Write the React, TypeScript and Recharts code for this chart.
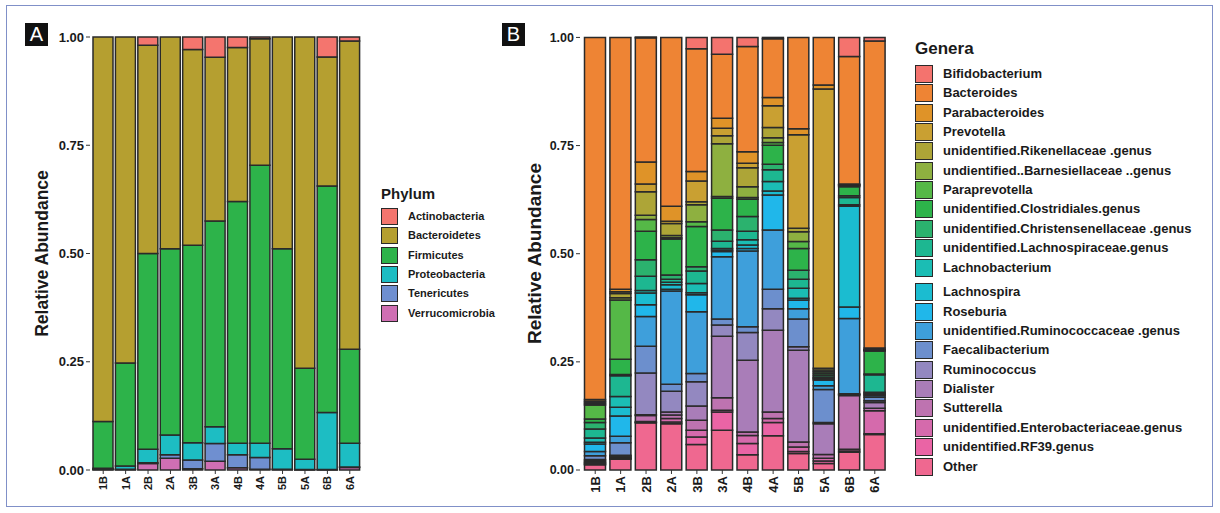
import React from 'react';
import { BarChart, Bar, XAxis, YAxis, Label } from 'recharts';

const samples = ['1B', '1A', '2B', '2A', '3B', '3A', '4B', '4A', '5B', '5A', '6B', '6A'];

// Panel A - phylum
const actinobacteria = [0, 0, 0.019, 0, 0.029, 0.047, 0.024, 0.004, 0, 0, 0.046, 0.009];
const bacteroidetes = [0.888, 0.753, 0.481, 0.489, 0.452, 0.378, 0.356, 0.292, 0.489, 0.765, 0.298, 0.712];
const firmicutes = [0.108, 0.238, 0.452, 0.43, 0.456, 0.475, 0.558, 0.642, 0.462, 0.21, 0.523, 0.217];
const proteobacteria = [0.002, 0.007, 0.031, 0.046, 0.04, 0.039, 0.027, 0.033, 0.047, 0.024, 0.132, 0.055];
const tenericutes = [0.001, 0.001, 0.002, 0.008, 0.02, 0.041, 0.03, 0.027, 0.001, 0.0005, 0.0005, 0.001];
const verrucomicrobia = [0.001, 0.001, 0.015, 0.027, 0.003, 0.02, 0.005, 0.002, 0.001, 0.0005, 0.0005, 0.006];

// Panel B - genera
const bifidobacterium = [0, 0, 0.002, 0, 0.026, 0.039, 0.021, 0.003, 0, 0, 0.044, 0.008];
const bacteroides = [0.837, 0.582, 0.287, 0.39, 0.284, 0.148, 0.243, 0.136, 0.211, 0.11, 0.295, 0.71];
const parabacteroides = [0.004, 0.006, 0.051, 0.035, 0.022, 0.023, 0.027, 0.019, 0.014, 0.009, 0.001, 0.003];
const prevotella = [0.003, 0.004, 0.018, 0.005, 0.048, 0.017, 0.01, 0.05, 0.216, 0.646, 0.001, 0.001];
const rikenellaceae = [0.003, 0.01, 0.054, 0.028, 0.007, 0.019, 0.044, 0.024, 0.008, 0.004, 0.001, 0.001];
const barnesiellaceae = [0.003, 0.005, 0.01, 0.005, 0.039, 0.122, 0.025, 0.011, 0.023, 0.004, 0.001, 0.001];
const paraprevotella = [0.032, 0.137, 0.027, 0.003, 0.011, 0.004, 0.004, 0.006, 0.016, 0.004, 0.002, 0.001];
const clostridiales = [0.008, 0.035, 0.066, 0.083, 0.093, 0.073, 0.04, 0.044, 0.05, 0.004, 0.021, 0.053];
const christensenellaceae = [0.015, 0.003, 0.038, 0.01, 0.01, 0.026, 0.034, 0.013, 0.021, 0.004, 0.004, 0.002];
const lachnospiraceae = [0.021, 0.048, 0.033, 0.007, 0.029, 0.017, 0.02, 0.027, 0.021, 0.002, 0.017, 0.04];
const lachnobacterium = [0.01, 0.025, 0.006, 0.006, 0.021, 0.004, 0.012, 0.022, 0.023, 0.002, 0.003, 0.003];
const lachnospira = [0.004, 0.02, 0.027, 0.01, 0.005, 0.003, 0.008, 0.009, 0.004, 0.003, 0.233, 0.002];
const roseburia = [0.017, 0.047, 0.027, 0.004, 0.039, 0.012, 0.006, 0.081, 0.02, 0.013, 0.027, 0.003];
const ruminococcaceae = [0.01, 0.015, 0.069, 0.216, 0.143, 0.144, 0.175, 0.137, 0.024, 0.009, 0.174, 0.004];
const faecalibacterium = [0.009, 0.029, 0.062, 0.016, 0.019, 0.014, 0.013, 0.045, 0.064, 0.076, 0.001, 0.008];
const ruminococcus = [0.003, 0.002, 0.096, 0.048, 0.056, 0.026, 0.064, 0.05, 0.008, 0.003, 0.001, 0.004];
const dialister = [0.003, 0.002, 0.002, 0.007, 0.033, 0.142, 0.166, 0.189, 0.212, 0.071, 0.002, 0.013];
const sutterella = [0.002, 0.002, 0.014, 0.008, 0.023, 0.029, 0.008, 0.015, 0.012, 0.009, 0.124, 0.006];
const enterobacteriaceae = [0.002, 0.002, 0.002, 0.008, 0.016, 0.004, 0.019, 0.009, 0.01, 0.006, 0.004, 0.053];
const rf39 = [0.002, 0.001, 0.001, 0.004, 0.017, 0.042, 0.026, 0.031, 0.005, 0.006, 0.003, 0.002];
const other = [0.012, 0.025, 0.109, 0.107, 0.059, 0.092, 0.035, 0.079, 0.038, 0.015, 0.041, 0.082];

const yTicks = [0, 0.25, 0.5, 0.75, 1];

const phyla = [
  { name: 'Actinobacteria', color: '#F4756E', values: actinobacteria },
  { name: 'Bacteroidetes', color: '#B59F30', values: bacteroidetes },
  { name: 'Firmicutes', color: '#2DB34A', values: firmicutes },
  { name: 'Proteobacteria', color: '#1DBDC3', values: proteobacteria },
  { name: 'Tenericutes', color: '#6F8FD0', values: tenericutes },
  { name: 'Verrucomicrobia', color: '#CF6FB3', values: verrucomicrobia },
];

const genera = [
  { name: 'Bifidobacterium', color: '#F4736E', values: bifidobacterium },
  { name: 'Bacteroides', color: '#EE8434', values: bacteroides },
  { name: 'Parabacteroides', color: '#DF9328', values: parabacteroides },
  { name: 'Prevotella', color: '#C9A032', values: prevotella },
  { name: 'unidentified.Rikenellaceae .genus', color: '#ADA537', values: rikenellaceae },
  { name: 'undientified..Barnesiellaceae ..genus', color: '#8EB040', values: barnesiellaceae },
  { name: 'Paraprevotella', color: '#55B847', values: paraprevotella },
  { name: 'unidentified.Clostridiales.genus', color: '#2DB34A', values: clostridiales },
  { name: 'unidentified.Christensenellaceae .genus', color: '#2BB26E', values: christensenellaceae },
  { name: 'unidentified.Lachnospiraceae.genus', color: '#1DB791', values: lachnospiraceae },
  { name: 'Lachnobacterium', color: '#1BBDB4', values: lachnobacterium },
  { name: 'Lachnospira', color: '#1BBCD0', values: lachnospira },
  { name: 'Roseburia', color: '#20B7EA', values: roseburia },
  { name: 'unidentified.Ruminococcaceae .genus', color: '#3E9FDB', values: ruminococcaceae },
  { name: 'Faecalibacterium', color: '#6C8FCD', values: faecalibacterium },
  { name: 'Ruminococcus', color: '#9388C0', values: ruminococcus },
  { name: 'Dialister', color: '#A97DB8', values: dialister },
  { name: 'Sutterella', color: '#BE73B0', values: sutterella },
  { name: 'unidentified.Enterobacteriaceae.genus', color: '#D56AAC', values: enterobacteriaceae },
  { name: 'unidentified.RF39.genus', color: '#EA64A5', values: rf39 },
  { name: 'Other', color: '#EF6890', values: other },
];

const buildRows = (series: { name: string; values: number[] }[]) =>
  samples.map((s, i) => {
    const row: any = { sample: s };
    series.forEach((g) => (row[g.name] = g.values[i]));
    return row;
  });

const phylumRows = buildRows(phyla);
const generaRows = buildRows(genera);

const FONT = '"Liberation Sans", Arial, Helvetica, sans-serif';
const INK = '#1a1a1a';

const XTick = ({ x, y, payload, size }: any) => (
  <text
    x={x}
    y={y}
    transform={`rotate(-90 ${x} ${y})`}
    textAnchor="end"
    dy="0.36em"
    fontSize={size}
    fontWeight={700}
    fill={INK}
  >
    {payload.value}
  </text>
);

const YTitle = ({ viewBox, dx, size }: any) => {
  const x = viewBox.x + dx;
  const y = viewBox.y + viewBox.height / 2;
  return (
    <text
      x={x}
      y={y}
      transform={`rotate(-90 ${x} ${y})`}
      textAnchor="middle"
      dominantBaseline="central"
      fontSize={size}
      fontWeight={700}
      fill={INK}
    >
      Relative Abundance
    </text>
  );
};

const StackPanel = ({ rows, series, width, yWidth, pad, barSize, xSize, ySize, titleDx, titleSize }: any) => (
  <BarChart
    width={width}
    height={513}
    data={rows}
    margin={{ top: 37, right: 6, bottom: 0, left: 30 }}
    barSize={barSize}
  >
    <XAxis
      dataKey="sample"
      interval={0}
      height={43}
      axisLine={false}
      tickSize={4}
      tickLine={{ stroke: '#333' }}
      padding={{ left: pad, right: pad }}
      tick={(p: any) => <XTick {...p} size={xSize} />}
    />
    <YAxis
      type="number"
      domain={[0, 1]}
      ticks={yTicks}
      width={yWidth}
      axisLine={false}
      tickSize={4}
      tickLine={{ stroke: '#333' }}
      tickFormatter={(v: number) => v.toFixed(2)}
      tick={{ fontSize: ySize, fontWeight: 700, fill: INK }}
    >
      <Label content={(p: any) => <YTitle {...p} dx={titleDx} size={titleSize} />} />
    </YAxis>
    {[...series].reverse().map((g: any) => (
      <Bar
        key={g.name}
        dataKey={g.name}
        stackId="s"
        fill={g.color}
        stroke="#2a2a2a"
        strokeWidth={1.5}
        isAnimationActive={false}
      />
    ))}
  </BarChart>
);

const Tag = ({ left, text }: { left: number; text: string }) => (
  <div
    style={{
      position: 'absolute',
      left,
      top: 23,
      width: 23,
      height: 23,
      background: '#111',
      color: '#fff',
      fontSize: 20,
      lineHeight: '23px',
      textAlign: 'center',
    }}
  >
    {text}
  </div>
);

const LegendBlock = ({ title, items, left, titleTop, titleSize, firstTop, pitch, keySize, textSize, textLeft, breakAfter, breakGap }: any) => (
  <div style={{ position: 'absolute', left: 0, top: 0 }}>
    <div
      style={{
        position: 'absolute',
        left,
        top: titleTop,
        fontSize: titleSize,
        fontWeight: 700,
        lineHeight: 1,
        color: INK,
        whiteSpace: 'nowrap',
      }}
    >
      {title}
    </div>
    {items.map((it: any, i: number) => {
      const top = firstTop + i * pitch + (breakAfter !== undefined && i > breakAfter ? breakGap : 0);
      return (
        <div key={it.name}>
          <div
            style={{
              position: 'absolute',
              left,
              top,
              width: keySize,
              height: keySize,
              boxSizing: 'border-box',
              background: it.color,
              border: '1.5px solid #2a2a2a',
            }}
          />
          <div
            style={{
              position: 'absolute',
              left: textLeft,
              top,
              height: keySize,
              lineHeight: `${keySize}px`,
              fontSize: textSize,
              fontWeight: 700,
              color: INK,
              whiteSpace: 'nowrap',
            }}
          >
            {it.name}
          </div>
        </div>
      );
    })}
  </div>
);

export default function App() {
  return (
    <div
      style={{
        position: 'absolute',
        left: 0,
        top: 0,
        width: 1220,
        height: 513,
        background: '#fff',
        fontFamily: FONT,
        overflow: 'hidden',
      }}
    >
      <div
        style={{
          position: 'absolute',
          left: 6,
          top: 5,
          width: 1207,
          height: 502,
          border: '1px solid #8090c8',
          boxSizing: 'border-box',
        }}
      />
      <div style={{ position: 'absolute', left: 0, top: 0 }}>
        <StackPanel
          rows={phylumRows}
          series={phyla}
          width={369}
          yWidth={60}
          pad={2}
          barSize={20}
          xSize={11}
          ySize={13}
          titleDx={12}
          titleSize={17.5}
        />
      </div>
      <div style={{ position: 'absolute', left: 500, top: 0 }}>
        <StackPanel
          rows={generaRows}
          series={genera}
          width={396}
          yWidth={50}
          pad={2.5}
          barSize={21}
          xSize={13}
          ySize={12.5}
          titleDx={4}
          titleSize={19}
        />
      </div>
      <Tag left={25} text="A" />
      <Tag left={502} text="B" />
      <LegendBlock
        title="Phylum"
        items={phyla}
        left={381}
        titleTop={186}
        titleSize={15}
        firstTop={208}
        pitch={19.3}
        keySize={17}
        textSize={11}
        textLeft={408}
      />
      <LegendBlock
        title="Genera"
        items={genera}
        left={915}
        titleTop={39.5}
        titleSize={17}
        firstTop={65}
        pitch={19.35}
        keySize={18}
        textSize={13}
        textLeft={943}
        breakAfter={10}
        breakGap={5.5}
      />
    </div>
  );
}
